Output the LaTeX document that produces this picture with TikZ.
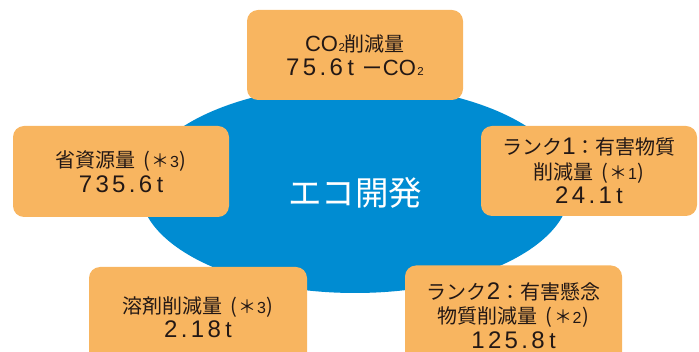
\documentclass[tikz,border=0pt]{standalone}
\usepackage{fontspec}
\setmainfont{Noto Sans CJK JP}
\newfontfamily\latf{Liberation Sans}
\newfontfamily\digf{Liberation Sans}[LetterSpace=14]
\newcommand\dg[1]{{\fontsize{24}{24}\selectfont\digf #1}}
\newcommand\lt[1]{{\fontsize{22}{22}\selectfont\latf #1}}
\newcommand\subtwo{{\fontsize{11.5}{11.5}\selectfont\latf 2}}
\newcommand\tonne{\kern4.5pt{\fontsize{23}{23}\selectfont\latf t}}
\newcommand\note[1]{\kern8pt(\kern1.5pt{\fontsize{18}{18}\selectfont ＊}\kern0.5pt{\fontsize{16}{16}\selectfont\latf #1}\kern1pt)}
\definecolor{ecoblue}{RGB}{0,140,210}
\definecolor{boxorange}{RGB}{248,181,96}
\definecolor{inkdark}{RGB}{35,24,21}
\begin{document}
\begin{tikzpicture}[x=1pt,y=-1pt,
  infobox/.style={fill=boxorange,draw=none,rounded corners=11pt,inner sep=0pt,
    align=center,text=inkdark,font=\fontsize{20}{24.5}\selectfont}]
\useasboundingbox (0,0) rectangle (699,352);
\clip (0,0) rectangle (699,352);
\fill[ecoblue] (355,189) ellipse [x radius=215, y radius=104];
\node[text=white,font=\fontsize{33.5}{33.5}\selectfont] (eco) at (355,193) {エコ開発};
\node[infobox,minimum width=216pt,minimum height=90pt] (co2) at (355,55)
  {\lt{CO}\kern0.5pt\subtwo 削減量\\\dg{75.6}\tonne\kern9pt ー\lt{CO}\kern1.5pt\subtwo};
\node[infobox,minimum width=216pt,minimum height=91pt] (res) at (121,171.5)
  {省資源量\note{3}\\\dg{735.6}\tonne};
\node[infobox,minimum width=216pt,minimum height=90pt] (rank1) at (589,171)
  {ランク\dg{1}：有害物質\\削減量\note{1}\\\dg{24.1}\tonne};
\node[infobox,minimum width=218pt,minimum height=100pt] (solv) at (198,317)
  {溶剤削減量\note{3}\\\dg{2.18}\tonne};
\node[infobox,minimum width=217pt,minimum height=100pt] (rank2) at (513.5,315.5)
  {ランク\dg{2}：有害懸念\\物質削減量\note{2}\\\dg{125.8}\tonne};
\end{tikzpicture}
\end{document}
